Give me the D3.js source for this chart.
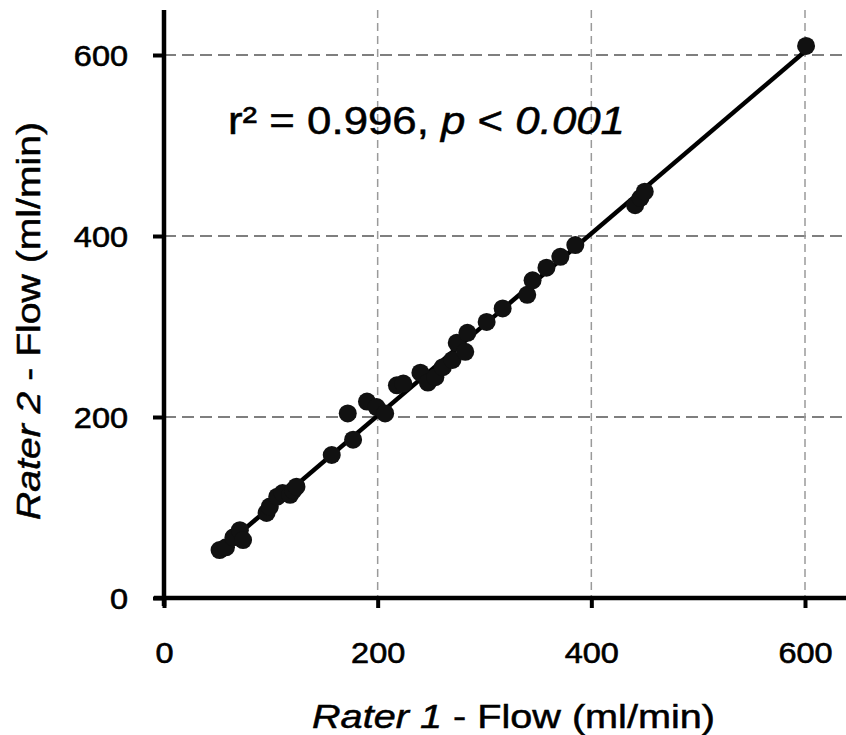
<!DOCTYPE html>
<html>
<head>
<meta charset="utf-8">
<script src="https://cdn.jsdelivr.net/npm/d3@7"></script>
<style>
  body { margin: 0; background: #fff; }
  svg { display: block; font-family: "Liberation Sans", Arial, sans-serif; }
  .tick text { font-family: "Liberation Sans", Arial, sans-serif; font-size: 29px; }
</style>
</head>
<body>
<svg id="chart" width="846" height="735"></svg>
<script>
// flow readings (ml/min), one entry per vessel
var rater1 = [52, 58, 65, 71, 74, 96, 99, 106, 111, 118, 121, 124, 157, 172, 177, 190, 199, 207,
              218, 224, 240, 247, 254, 261, 270, 274, 282, 284, 302, 317, 340, 345, 358, 371, 385,
              441, 446, 450, 601]
var rater2 = [53, 56, 67, 75, 64, 94, 101, 112, 116, 114, 119, 123, 158, 204, 175, 217, 211, 204,
              235, 237, 249, 238, 244, 255, 263, 282, 272, 293, 305, 320, 335, 351, 365, 377, 390,
              434, 442, 449, 610]
var tickValues = [0, 200, 400, 600]
var fitSlope = 1.006,
    fitIntercept = 0.3

var W = 846, H = 735
var left = 164, bottom = 598

var svg = d3.select('#chart')

var x = d3.scaleLinear().domain([0, 600]).range([left, 805])
var y = d3.scaleLinear().domain([0, 600]).range([bottom, 55])

// grid
svg.append('g').selectAll('line')
    .data(tickValues.slice(1))
    .enter()
    .append('line')
    .attr('x1', left).attr('x2', W)
    .attr('y1', d => y(d)).attr('y2', d => y(d))
    .attr('stroke', '#555')
    .attr('stroke-width', 1.5)
    .attr('stroke-dasharray', '12,6')

svg.append('g').selectAll('line')
    .data(tickValues.slice(1))
    .enter()
    .append('line')
    .attr('x1', d => x(d)).attr('x2', d => x(d))
    .attr('y1', 10).attr('y2', bottom)
    .attr('stroke', '#9a9a9a')
    .attr('stroke-width', 1.5)
    .attr('stroke-dasharray', '8,5')

// axes
var xAxis = svg.append('g')
    .attr('transform', 'translate(0,' + bottom + ')')
    .call(d3.axisBottom(x).tickValues(tickValues).tickSize(10).tickFormat(d3.format('d')))
xAxis.select('.domain').remove()
xAxis.selectAll('line').attr('stroke', '#000').attr('stroke-width', 4)
xAxis.selectAll('text')
    .attr('y', 65).attr('dy', 0)
    .attr('fill', '#000')
    .attr('stroke', '#000').attr('stroke-width', 0.6)
    .attr('transform', 'scale(1.12,1)')

var yAxis = svg.append('g')
    .attr('transform', 'translate(' + left + ',0)')
    .call(d3.axisLeft(y).tickValues(tickValues).tickSize(11).tickFormat(d3.format('d')))
yAxis.select('.domain').remove()
yAxis.selectAll('line').attr('stroke', '#000').attr('stroke-width', 4)
yAxis.selectAll('text')
    .attr('x', -36 / 1.12).attr('dy', '0.36em')
    .attr('fill', '#000')
    .attr('stroke', '#000').attr('stroke-width', 0.6)
    .attr('transform', 'scale(1.12,1)')

svg.append('line')
    .attr('x1', left).attr('x2', left)
    .attr('y1', 10).attr('y2', bottom + 8)
    .attr('stroke', '#000').attr('stroke-width', 4.5)
svg.append('line')
    .attr('x1', left - 10).attr('x2', W)
    .attr('y1', bottom).attr('y2', bottom)
    .attr('stroke', '#000').attr('stroke-width', 4.5)

// regression line
var x0 = d3.min(rater1), x1 = d3.max(rater1)
svg.append('line')
    .attr('x1', x(x0)).attr('y1', y(fitSlope * x0 + fitIntercept))
    .attr('x2', x(x1)).attr('y2', y(fitSlope * x1 + fitIntercept))
    .attr('stroke', '#000')
    .attr('stroke-width', 4.5)

// points
svg.append('g').selectAll('circle')
    .data(rater1)
    .enter()
    .append('circle')
    .attr('cx', d => x(d))
    .attr('cy', (d, i) => y(rater2[i]))
    .attr('r', 9)
    .attr('fill', '#111')

// annotation
var note = svg.append('text')
    .attr('x', 228).attr('y', 134)
    .attr('font-size', 38)
    .attr('fill', '#000')
    .attr('stroke', '#000').attr('stroke-width', 0.5)
    .attr('textLength', 397)
    .attr('lengthAdjust', 'spacingAndGlyphs')
note.append('tspan').text('r² = 0.996, ')
note.append('tspan').attr('font-style', 'italic').text('p')
note.append('tspan').text(' < ')
note.append('tspan').attr('font-style', 'italic').text('0.001')

// axis titles
var xt = svg.append('text')
    .attr('x', 312).attr('y', 728)
    .attr('font-size', 33)
    .attr('fill', '#000')
    .attr('stroke', '#000').attr('stroke-width', 0.5)
    .attr('textLength', 403)
    .attr('lengthAdjust', 'spacingAndGlyphs')
xt.append('tspan').attr('font-style', 'italic').text('Rater 1')
xt.append('tspan').text(' - Flow (ml/min)')

var yt = svg.append('text')
    .attr('transform', 'translate(40,520) rotate(-90)')
    .attr('font-size', 33)
    .attr('fill', '#000')
    .attr('stroke', '#000').attr('stroke-width', 0.5)
    .attr('textLength', 398)
    .attr('lengthAdjust', 'spacingAndGlyphs')
yt.append('tspan').attr('font-style', 'italic').text('Rater 2')
yt.append('tspan').text(' - Flow (ml/min)')
</script>
</body>
</html>
